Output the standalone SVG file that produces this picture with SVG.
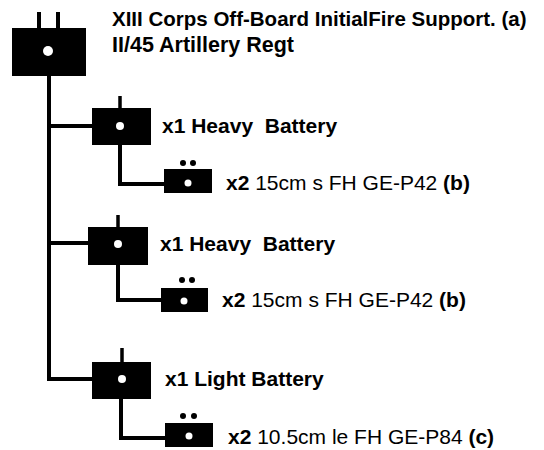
<svg xmlns="http://www.w3.org/2000/svg" width="544" height="450" viewBox="0 0 544 450">
<style>
.box{fill:#000}
.hole{fill:#fff}
.pip{fill:#000}
.ln{stroke:#000;stroke-width:4;fill:none}
.tk{stroke:#000;stroke-width:3.5}
text{font-family:"Liberation Sans",Arial,sans-serif;fill:#000}
.b{font-weight:bold}
.t1{font-size:20.5px;font-weight:bold}
.t2{font-size:21.5px;font-weight:bold}
.l{font-size:21px}
</style>
<rect width="544" height="450" fill="#fff"/>
<g id="connectors">
<path class="ln" d="M49 76V381"/>
<path class="ln" d="M47 126H92"/>
<path class="ln" d="M47 243H88"/>
<path class="ln" d="M47 379H92"/>
<path class="ln" d="M120 145V184H164"/>
<path class="ln" d="M118 265V300H161"/>
<path class="ln" d="M121 399V438H165"/>
</g>
<g id="regt">
<line class="tk" x1="39" y1="12" x2="39" y2="28" style="stroke-width:4"/>
<line class="tk" x1="58" y1="12" x2="58" y2="28" style="stroke-width:4"/>
<rect class="box" x="12" y="28" width="74" height="48"/>
<circle class="hole" cx="48" cy="51" r="5"/>
<text class="t1" x="112" y="26">XIII Corps Off-Board InitialFire Support. (a)</text>
<text class="t2" x="112" y="52">II/45 Artillery Regt</text>
</g>
<g id="battery1">
<line class="tk" x1="120" y1="96" x2="120" y2="108"/>
<rect class="box" x="92" y="108" width="59" height="37"/>
<circle class="hole" cx="120" cy="126" r="4"/>
<text class="l b" x="162" y="133" xml:space="preserve">x1 Heavy  Battery</text>
</g>
<g id="guns1">
<circle class="pip" cx="183" cy="163" r="3"/>
<circle class="pip" cx="193" cy="163" r="3"/>
<rect class="box" x="164" y="169" width="48" height="24"/>
<circle class="hole" cx="188" cy="183" r="3.5"/>
<text class="l" x="226" y="190"><tspan class="b">x2</tspan> 15cm s FH GE-P42 <tspan class="b">(b)</tspan></text>
</g>
<g id="battery2">
<line class="tk" x1="118" y1="215" x2="118" y2="227"/>
<rect class="box" x="88" y="227" width="60" height="38"/>
<circle class="hole" cx="118" cy="244" r="4"/>
<text class="l b" x="160" y="251" xml:space="preserve">x1 Heavy  Battery</text>
</g>
<g id="guns2">
<circle class="pip" cx="182" cy="280" r="3"/>
<circle class="pip" cx="192" cy="280" r="3"/>
<rect class="box" x="161" y="288" width="47" height="24"/>
<circle class="hole" cx="184" cy="301" r="3.5"/>
<text class="l" x="222" y="307"><tspan class="b">x2</tspan> 15cm s FH GE-P42 <tspan class="b">(b)</tspan></text>
</g>
<g id="battery3">
<line class="tk" x1="122" y1="348" x2="122" y2="362"/>
<rect class="box" x="92" y="362" width="59" height="37"/>
<circle class="hole" cx="122" cy="379" r="4"/>
<text class="l b" x="165" y="386">x1 Light Battery</text>
</g>
<g id="guns3">
<circle class="pip" cx="183" cy="416" r="3"/>
<circle class="pip" cx="194" cy="416" r="3"/>
<rect class="box" x="165" y="423" width="48" height="24"/>
<circle class="hole" cx="189" cy="436" r="3.5"/>
<text class="l" x="228" y="444"><tspan class="b">x2</tspan> 10.5cm le FH GE-P84 <tspan class="b">(c)</tspan></text>
</g>
</svg>
